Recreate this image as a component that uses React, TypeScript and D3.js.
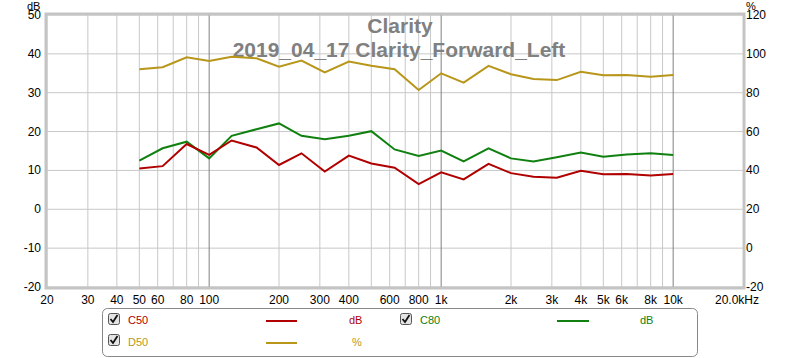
import * as d3 from "d3"

const freqs = [50, 63, 80, 100, 125, 160, 200, 250, 315, 400, 500, 630, 800, 1000, 1250, 1600, 2000, 2500, 3150, 4000, 5000, 6300, 8000, 10000]
const c50 = [10.5, 11.1, 16.8, 14.0, 17.7, 15.9, 11.4, 14.4, 9.7, 13.8, 11.8, 10.7, 6.5, 9.5, 7.7, 11.7, 9.3, 8.4, 8.1, 9.9, 9.0, 9.1, 8.7, 9.1]
const c80 = [12.5, 15.7, 17.4, 13.1, 18.9, 20.6, 22.1, 18.9, 18.0, 18.9, 20.1, 15.4, 13.7, 15.1, 12.3, 15.7, 13.1, 12.3, 13.4, 14.6, 13.5, 14.1, 14.4, 14.0]
const d50 = [92.1, 93.1, 98.2, 96.3, 98.5, 97.7, 93.4, 96.5, 90.5, 96.0, 93.9, 92.1, 81.4, 90.0, 85.2, 93.8, 89.5, 87.1, 86.5, 90.8, 89.0, 89.1, 88.2, 89.1]

const dbTicks = [50, 40, 30, 20, 10, 0, -10, -20]
const pctTicks = [120, 100, 80, 60, 40, 20, 0, -20]
const gridFreqs = [20, 30, 40, 50, 60, 70, 80, 90, 100, 200, 300, 400, 500, 600, 700, 800, 900, 1000, 2000, 3000, 4000, 5000, 6000, 7000, 8000, 9000, 10000]
const decades = [100, 1000, 10000]
const freqLabels: [number, string][] = [
	[20, "20"], [30, "30"], [40, "40"], [50, "50"], [60, "60"], [80, "80"], [100, "100"],
	[200, "200"], [300, "300"], [400, "400"], [600, "600"], [800, "800"], [1000, "1k"],
	[2000, "2k"], [3000, "3k"], [4000, "4k"], [5000, "5k"], [6000, "6k"], [8000, "8k"], [10000, "10k"], [20000, "20.0kHz"],
]

const RED = "#b00000"
const GREEN = "#108010"
const GOLD = "#b8961a"

export default function App() {
	const margin = { top: 15, left: 47, right: 743, bottom: 287 }
	const x = d3.scaleLog().domain([20, 20000]).range([margin.left, margin.right])
	const yDb = d3.scaleLinear().domain([-20, 50]).range([margin.bottom, margin.top])
	const yPct = d3.scaleLinear().domain([-20, 120]).range([margin.bottom, margin.top])

	const lineDb = d3.line<number>().x((_, i) => x(freqs[i])).y((d) => yDb(d))
	const linePct = d3.line<number>().x((_, i) => x(freqs[i])).y((d) => yPct(d))

	const font = "'Liberation Sans', Arial, sans-serif"

	// little ticked box like the ones in the legend
	const checkbox = (cx: number, cy: number) => (
		<g transform={`translate(${cx},${cy})`}>
			<rect x={0.5} y={0.5} width={11} height={11} rx={2} fill="#e4e4e4" stroke="#555" />
			<path d="M2.5,6 L5,9 L9.5,2" fill="none" stroke="#111" strokeWidth={1.8} />
		</g>
	)

	return (
		<svg width={800} height={358} style={{ position: "absolute", left: 0, top: 0, background: "#fff" }} fontFamily={font}>
			<rect width={800} height={358} fill="#fff" />
			{/* grid */}
			{dbTicks.map((t) => (
				<line key={"h" + t} x1={margin.left} x2={margin.right} y1={yDb(t)} y2={yDb(t)} stroke="#c8c8c8" />
			))}
			{gridFreqs.map((f) => (
				<line key={"v" + f} x1={x(f)} x2={x(f)} y1={margin.top} y2={margin.bottom} stroke={decades.includes(f) ? "#808080" : "#c8c8c8"} />
			))}
			{/* frame */}
			<rect x={margin.left - 1} y={margin.top - 1} width={margin.right - margin.left + 2} height={margin.bottom - margin.top + 2} fill="none" stroke="#c4c4c4" strokeWidth={3} />

			{/* title */}
			<text x={400} y={33} textAnchor="middle" fontSize={21} fontWeight="bold" fill="#808080">Clarity</text>
			<text x={399} y={57} textAnchor="middle" fontSize={21} fontWeight="bold" fill="#808080">2019_04_17 Clarity_Forward_Left</text>

			{/* series */}
			<path d={linePct(d50) ?? ""} fill="none" stroke={GOLD} strokeWidth={2} />
			<path d={lineDb(c80) ?? ""} fill="none" stroke={GREEN} strokeWidth={2} />
			<path d={lineDb(c50) ?? ""} fill="none" stroke={RED} strokeWidth={2} />

			{/* left axis */}
			<text x={27} y={10} fontSize={11} fill="#000">dB</text>
			{dbTicks.map((t) => (
				<text key={"l" + t} x={41} y={yDb(t) + 4} textAnchor="end" fontSize={12} fill="#000">{t}</text>
			))}
			{/* right axis */}
			<text x={746} y={10} fontSize={11} fill="#000">%</text>
			{pctTicks.map((t) => (
				<text key={"r" + t} x={746} y={yPct(t) + 4} fontSize={12} fill="#000">{t}</text>
			))}
			{/* bottom axis */}
			{freqLabels.map(([f, s]) => (
				<text key={"b" + f} x={f === 20000 ? x(f) - 6 : x(f)} y={304} textAnchor="middle" fontSize={12} fill="#000">{s}</text>
			))}

			{/* legend */}
			<rect x={102.5} y={308.5} width={595} height={48} rx={5} fill="#fff" stroke="#888" />
			{checkbox(108, 313)}
			<text x={128} y={324} fontSize={11} fill={RED}>C50</text>
			<line x1={266} x2={297} y1={321} y2={321} stroke={RED} strokeWidth={2} />
			<text x={349} y={324} fontSize={11} fill={RED}>dB</text>
			{checkbox(400, 313)}
			<text x={420} y={324} fontSize={11} fill={GREEN}>C80</text>
			<line x1={557} x2={589} y1={321} y2={321} stroke={GREEN} strokeWidth={2} />
			<text x={640} y={324} fontSize={11} fill={GREEN}>dB</text>
			{checkbox(108, 334)}
			<text x={128} y={346} fontSize={11} fill={GOLD}>D50</text>
			<line x1={266} x2={297} y1={343} y2={343} stroke={GOLD} strokeWidth={2} />
			<text x={352} y={346} fontSize={11} fill={GOLD}>%</text>
		</svg>
	)
}
